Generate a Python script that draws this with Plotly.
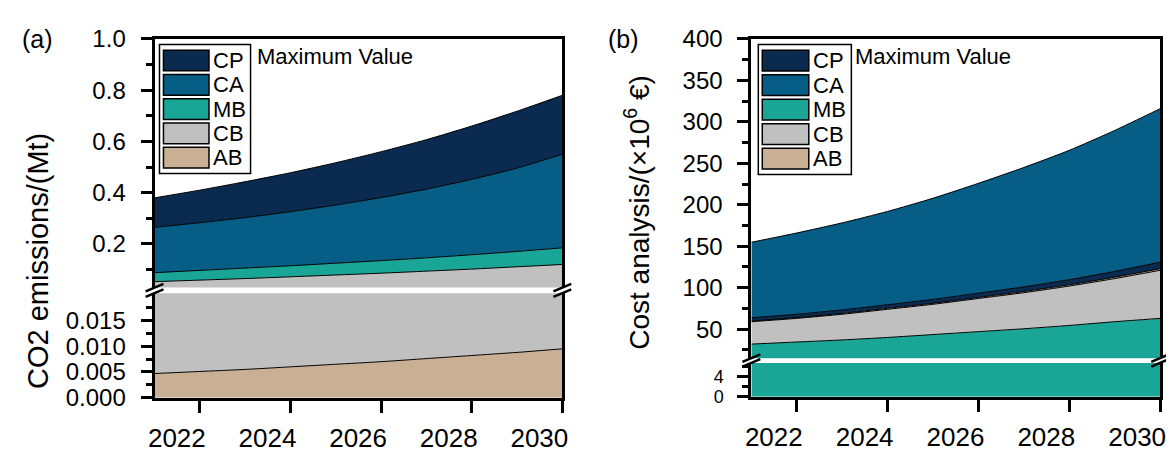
import plotly.graph_objects as go

# ---------------- data ----------------
years = [2021, 2022, 2023, 2024, 2025, 2026, 2027, 2028, 2029, 2030]
series_names = ["CP", "CA", "MB", "CB", "AB"]

# (a) CO2 emissions (Mt), maximum value
co2_AB = [0.0047, 0.0051, 0.0055, 0.0060, 0.0065, 0.0070, 0.0076, 0.0082, 0.0088, 0.0095]
co2_CB = [0.0483, 0.0539, 0.0595, 0.0660, 0.0725, 0.0790, 0.0864, 0.0938, 0.1022, 0.1105]
co2_MB = [0.035, 0.038, 0.041, 0.043, 0.046, 0.049, 0.052, 0.056, 0.060, 0.065]
co2_CA = [0.177, 0.186, 0.197, 0.211, 0.227, 0.246, 0.268, 0.294, 0.325, 0.365]
co2_CP = [0.115, 0.127, 0.140, 0.152, 0.165, 0.179, 0.193, 0.208, 0.222, 0.230]

# (b) Cost analysis (x10^6 EUR), maximum value
cost_MB = [32, 34.5, 37, 40, 43.5, 47, 50.5, 54.5, 59, 63]
cost_CB = [27, 28.5, 31, 34, 36.5, 40, 43.5, 47.5, 52, 58]
cost_AB = [0.8, 0.9, 1.0, 1.1, 1.2, 1.3, 1.4, 1.5, 1.7, 1.9]
cost_CP = [4.0, 4.1, 4.2, 4.4, 4.7, 5.1, 5.6, 6.2, 7.0, 8.0]
cost_CA = [91, 98, 105, 112.5, 122, 132.5, 144, 156, 170, 185]

x_ticks = [2022, 2024, 2026, 2028, 2030]

# ---------------- styling ----------------
COL = {"CP": "#0A2A50", "CA": "#065E86", "MB": "#19A697", "CB": "#C0C0C0", "AB": "#C9AF93"}
FONT = "Liberation Sans, Arial, sans-serif"
W, H = 1174, 463


def fx(p):
    return p / W


def fy(p):
    return 1 - p / H


fig = go.Figure()


def add_stack(xa, ya, group, items):
    for name, vals in items:
        fig.add_trace(go.Scatter(
            x=years, y=vals, xaxis=xa, yaxis=ya, stackgroup=group,
            mode="lines", name=name, showlegend=False, hoverinfo="skip",
            line=dict(color="black", width=1, shape="spline", smoothing=0.6),
            fillcolor=COL[name]))


stack_a = [("AB", co2_AB), ("CB", co2_CB), ("MB", co2_MB), ("CA", co2_CA), ("CP", co2_CP)]
stack_b = [("MB", cost_MB), ("CB", cost_CB), ("AB", cost_AB), ("CP", cost_CP), ("CA", cost_CA)]

add_stack("x", "y", "a_low", stack_a)
add_stack("x2", "y2", "a_up", stack_a)
add_stack("x3", "y3", "b_low", stack_b)
add_stack("x4", "y4", "b_up", stack_b)

# panel geometry (pixels)
A_X = (142, 554)
A_UP = (18, 282)
A_LO = (288, 399)
B_X = (745, 1158)
B_UP = (18, 357)
B_LO = (362, 398)

LW = 3
ytickfont = dict(family=FONT, size=24, color="black")
xtickfont = dict(family=FONT, size=26, color="black")

base_y = dict(showline=True, linecolor="black", linewidth=LW, mirror=True,
              ticks="outside", ticklen=11, tickwidth=LW, tickcolor="black",
              showgrid=False, zeroline=False, tickfont=ytickfont, fixedrange=True,
              ticklabelstandoff=10)

xlow = dict(showline=True, linecolor="black", linewidth=LW, ticks="outside",
            ticklen=12, tickwidth=LW, tickcolor="black", showgrid=False,
            zeroline=False, tickfont=xtickfont, range=[2021, 2030],
            tickvals=x_ticks, ticklabelshift=-23, ticklabelstandoff=3)
xup = dict(showline=True, linecolor="black", linewidth=LW, ticks="",
           showticklabels=False, showgrid=False, zeroline=False,
           range=[2021, 2030], side="top")

fig.update_layout(
    width=W, height=H, autosize=False,
    margin=dict(l=0, r=0, t=0, b=0),
    paper_bgcolor="white", plot_bgcolor="white",
    font=dict(family=FONT, color="black"),
    xaxis=dict(xlow, domain=[fx(A_X[0]), fx(A_X[1])], anchor="y"),
    yaxis=dict(base_y, domain=[fy(A_LO[1]), fy(A_LO[0])], anchor="x",
               range=[0, 0.0203], tickvals=[0, 0.005, 0.010, 0.015],
               ticktext=["0.000", "0.005", "0.010", "0.015"],
               minor=dict(tickvals=[0.0025, 0.0075, 0.0125, 0.0175], ticklen=6,
                          tickwidth=LW, tickcolor="black", ticks="outside")),
    xaxis2=dict(xup, domain=[fx(A_X[0]), fx(A_X[1])], anchor="y2"),
    yaxis2=dict(base_y, domain=[fy(A_UP[1]), fy(A_UP[0])], anchor="x2",
                range=[0.03, 1.0], tick0=0, dtick=0.2, tickformat=".1f",
                minor=dict(tick0=0, dtick=0.1, ticklen=6, tickwidth=LW,
                           tickcolor="black", ticks="outside")),
    xaxis3=dict(xlow, domain=[fx(B_X[0]), fx(B_X[1])], anchor="y3"),
    yaxis3=dict(base_y, domain=[fy(B_LO[1]), fy(B_LO[0])], anchor="x3",
                range=[0, 6.8], tickvals=[0, 4],
                tickfont=dict(family=FONT, size=18, color="black"),
                minor=dict(tickvals=[2, 6], ticklen=6, tickwidth=LW,
                           tickcolor="black", ticks="outside")),
    xaxis4=dict(xup, domain=[fx(B_X[0]), fx(B_X[1])], anchor="y4"),
    yaxis4=dict(base_y, domain=[fy(B_UP[1]), fy(B_UP[0])], anchor="x4",
                range=[15, 400], tick0=0, dtick=50,
                minor=dict(tick0=0, dtick=25, ticklen=6, tickwidth=LW,
                           tickcolor="black", ticks="outside")),
)

shapes = []
annotations = []

# axis break marks
for cx in (A_X[0], A_X[1]):
    for gy in (A_UP[1], A_LO[0]):
        shapes.append(dict(type="line", xref="paper", yref="paper",
                           x0=fx(cx - 9), y0=fy(gy + 4), x1=fx(cx + 9), y1=fy(gy - 4),
                           line=dict(color="black", width=2.5)))
for cx in (B_X[0], B_X[1]):
    for gy in (B_UP[1], B_LO[0]):
        shapes.append(dict(type="line", xref="paper", yref="paper",
                           x0=fx(cx - 9), y0=fy(gy + 4), x1=fx(cx + 9), y1=fy(gy - 4),
                           line=dict(color="black", width=2.5)))


def add_legend(box_x0, box_y0, box_x1, box_y1, sw_x0, sw_x1, lab_x, max_x):
    shapes.append(dict(type="rect", xref="paper", yref="paper",
                       x0=fx(box_x0), y0=fy(box_y1), x1=fx(box_x1), y1=fy(box_y0),
                       line=dict(color="black", width=1.5), fillcolor="white"))
    row_h = (box_y1 - box_y0 - 8) / 5.0
    for i, name in enumerate(series_names):
        cy = box_y0 + 4 + row_h * (i + 0.5)
        shapes.append(dict(type="rect", xref="paper", yref="paper",
                           x0=fx(sw_x0), y0=fy(cy + 11), x1=fx(sw_x1), y1=fy(cy - 11),
                           line=dict(color="black", width=1.5), fillcolor=COL[name]))
        annotations.append(dict(xref="paper", yref="paper", x=fx(lab_x), y=fy(cy),
                                text=name, showarrow=False, xanchor="left", yanchor="middle",
                                borderpad=0,
                                font=dict(family=FONT, size=22, color="black")))
    annotations.append(dict(xref="paper", yref="paper", x=fx(max_x), y=fy(37),
                            text="Maximum Value", showarrow=False, xanchor="left",
                            yanchor="middle", font=dict(family=FONT, size=22, color="black")))


add_legend(147, 24, 239, 161, 151, 197, 200, 243)
add_legend(752, 24, 846, 162, 756, 803, 806, 848)

# panel letters
annotations.append(dict(xref="paper", yref="paper", x=fx(24), y=fy(18), text="(a)",
                        showarrow=False, xanchor="center", yanchor="middle",
                        font=dict(family=FONT, size=25, color="black")))
annotations.append(dict(xref="paper", yref="paper", x=fx(616), y=fy(18), text="(b)",
                        showarrow=False, xanchor="center", yanchor="middle",
                        font=dict(family=FONT, size=25, color="black")))

# y-axis titles
annotations.append(dict(xref="paper", yref="paper", x=fx(24), y=fy(254),
                        text="CO2 emissions/(Mt)", textangle=-90, showarrow=False,
                        xanchor="center", yanchor="middle",
                        font=dict(family=FONT, size=29, color="black")))
annotations.append(dict(xref="paper", yref="paper", x=fx(630), y=fy(202),
                        text="Cost analysis/(×10<sup>6</sup> €)", textangle=-90,
                        showarrow=False, xanchor="center", yanchor="middle",
                        font=dict(family=FONT, size=28, color="black")))

fig.update_layout(shapes=shapes, annotations=annotations)

fig.write_html("out.html")
